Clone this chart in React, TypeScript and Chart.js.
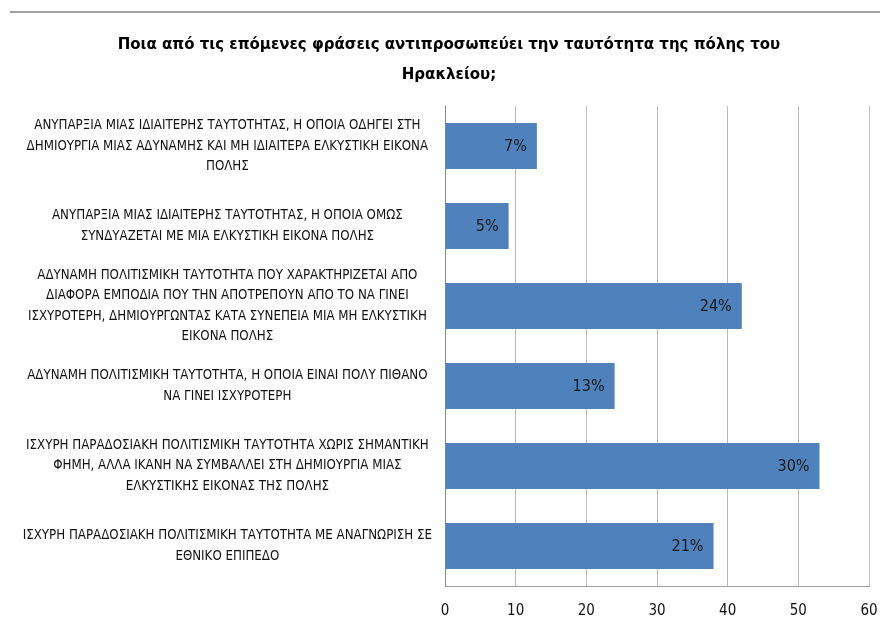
import React, { useEffect, useRef } from "react";
import { Chart, registerables } from "chart.js";

Chart.register(...registerables);

const titleLines = [
  "Ποια από τις επόμενες φράσεις αντιπροσωπεύει την ταυτότητα της πόλης του",
  "Ηρακλείου;",
];

const categories: string[][] = [
  [
    "ΑΝΥΠΑΡΞΙΑ ΜΙΑΣ ΙΔΙΑΙΤΕΡΗΣ ΤΑΥΤΟΤΗΤΑΣ, Η ΟΠΟΙΑ ΟΔΗΓΕΙ ΣΤΗ",
    "ΔΗΜΙΟΥΡΓΙΑ ΜΙΑΣ ΑΔΥΝΑΜΗΣ ΚΑΙ ΜΗ ΙΔΙΑΙΤΕΡΑ ΕΛΚΥΣΤΙΚΗ ΕΙΚΟΝΑ",
    "ΠΟΛΗΣ",
  ],
  [
    "ΑΝΥΠΑΡΞΙΑ ΜΙΑΣ ΙΔΙΑΙΤΕΡΗΣ ΤΑΥΤΟΤΗΤΑΣ, Η ΟΠΟΙΑ ΟΜΩΣ",
    "ΣΥΝΔΥΑΖΕΤΑΙ ΜΕ ΜΙΑ ΕΛΚΥΣΤΙΚΗ ΕΙΚΟΝΑ ΠΟΛΗΣ",
  ],
  [
    "ΑΔΥΝΑΜΗ ΠΟΛΙΤΙΣΜΙΚΗ ΤΑΥΤΟΤΗΤΑ ΠΟΥ ΧΑΡΑΚΤΗΡΙΖΕΤΑΙ ΑΠΟ",
    "ΔΙΑΦΟΡΑ ΕΜΠΟΔΙΑ ΠΟΥ ΤΗΝ ΑΠΟΤΡΕΠΟΥΝ ΑΠΟ ΤΟ ΝΑ ΓΙΝΕΙ",
    "ΙΣΧΥΡΟΤΕΡΗ, ΔΗΜΙΟΥΡΓΩΝΤΑΣ ΚΑΤΑ ΣΥΝΕΠΕΙΑ ΜΙΑ ΜΗ ΕΛΚΥΣΤΙΚΗ",
    "ΕΙΚΟΝΑ ΠΟΛΗΣ",
  ],
  [
    "ΑΔΥΝΑΜΗ ΠΟΛΙΤΙΣΜΙΚΗ ΤΑΥΤΟΤΗΤΑ, Η ΟΠΟΙΑ ΕΙΝΑΙ ΠΟΛΥ ΠΙΘΑΝΟ",
    "ΝΑ ΓΙΝΕΙ ΙΣΧΥΡΟΤΕΡΗ",
  ],
  [
    "ΙΣΧΥΡΗ ΠΑΡΑΔΟΣΙΑΚΗ ΠΟΛΙΤΙΣΜΙΚΗ ΤΑΥΤΟΤΗΤΑ ΧΩΡΙΣ ΣΗΜΑΝΤΙΚΗ",
    "ΦΗΜΗ, ΑΛΛΑ ΙΚΑΝΗ ΝΑ ΣΥΜΒΑΛΛΕΙ ΣΤΗ ΔΗΜΙΟΥΡΓΙΑ ΜΙΑΣ",
    "ΕΛΚΥΣΤΙΚΗΣ ΕΙΚΟΝΑΣ ΤΗΣ ΠΟΛΗΣ",
  ],
  [
    "ΙΣΧΥΡΗ ΠΑΡΑΔΟΣΙΑΚΗ ΠΟΛΙΤΙΣΜΙΚΗ ΤΑΥΤΟΤΗΤΑ ΜΕ ΑΝΑΓΝΩΡΙΣΗ ΣΕ",
    "ΕΘΝΙΚΟ ΕΠΙΠΕΔΟ",
  ],
];

const counts = [13, 9, 42, 24, 53, 38];
const percentLabels = ["7%", "5%", "24%", "13%", "30%", "21%"];

const xMin = 0;
const xMax = 60;
const xStep = 10;

const LABEL_FONT = "'DejaVu Sans Condensed', 'Liberation Sans Narrow', sans-serif";

const topLinePlugin = {
  id: "topLine",
  beforeDraw(chart: any) {
    const ctx = chart.ctx;
    ctx.save();
    ctx.fillStyle = "#ffffff";
    ctx.fillRect(0, 0, chart.width, chart.height);
    ctx.strokeStyle = "#a0a0a0";
    ctx.lineWidth = 2;
    ctx.beginPath();
    ctx.moveTo(10, 12);
    ctx.lineTo(chart.width, 12);
    ctx.stroke();
    ctx.restore();
  },
};

const barLabelPlugin = {
  id: "barLabels",
  afterDatasetsDraw(chart: any) {
    const ctx = chart.ctx;
    const meta = chart.getDatasetMeta(0);
    ctx.save();
    ctx.font = `16px ${LABEL_FONT}`;
    ctx.fillStyle = "#1a1a1a";
    ctx.textAlign = "right";
    ctx.textBaseline = "middle";
    meta.data.forEach((bar: any, i: number) => {
      ctx.fillText(percentLabels[i], bar.x - 10, bar.y + 1);
    });
    ctx.restore();
  },
};

export default function App() {
  const canvasRef = useRef<HTMLCanvasElement | null>(null);

  useEffect(() => {
    if (!canvasRef.current) return;
    const chart = new Chart(canvasRef.current, {
      type: "bar",
      data: {
        labels: categories,
        datasets: [
          {
            data: counts,
            backgroundColor: "#4F81BD",
            borderWidth: 0,
            categoryPercentage: 1,
            barPercentage: 0.575,
          },
        ],
      },
      options: {
        indexAxis: "y",
        responsive: false,
        animation: false,
        layout: { padding: { left: 18, right: 0, top: 0, bottom: 0 } },
        plugins: {
          legend: { display: false },
          tooltip: { enabled: false },
          title: {
            display: true,
            text: titleLines,
            color: "#000000",
            font: { family: LABEL_FONT, size: 16.7, weight: "bold", lineHeight: 1.8 },
            padding: { top: 30, bottom: 16 },
          },
        },
        scales: {
          x: {
            min: xMin,
            max: xMax,
            ticks: {
              stepSize: xStep,
              color: "#111111",
              font: { family: LABEL_FONT, size: 15 },
              padding: 16,
            },
            grid: { color: "#b8b8b8", drawTicks: false, lineWidth: 1 },
            border: { display: true, color: "#a0a0a0", width: 1 },
            afterFit(scale: any) {
              scale.height = 39;
              scale.paddingLeft = 0;
              scale.paddingRight = 11;
            },
          },
          y: {
            ticks: {
              color: "#111111",
              crossAlign: "center",
              padding: 13,
              font: { family: LABEL_FONT, size: 13.2, lineHeight: 1.55 },
              autoSkip: false,
            },
            grid: { display: false, drawTicks: false },
            border: { display: true, color: "#888888", width: 1 },
            afterFit(scale: any) {
              scale.width = 427;
              scale.paddingTop = 0;
              scale.paddingBottom = 0;
            },
          },
        },
      },
      plugins: [topLinePlugin, barLabelPlugin],
    });
    return () => chart.destroy();
  }, []);

  return (
    <div style={{ position: "absolute", left: 0, top: 0, width: 880, height: 625 }}>
      <canvas ref={canvasRef} width={880} height={625} />
    </div>
  );
}
